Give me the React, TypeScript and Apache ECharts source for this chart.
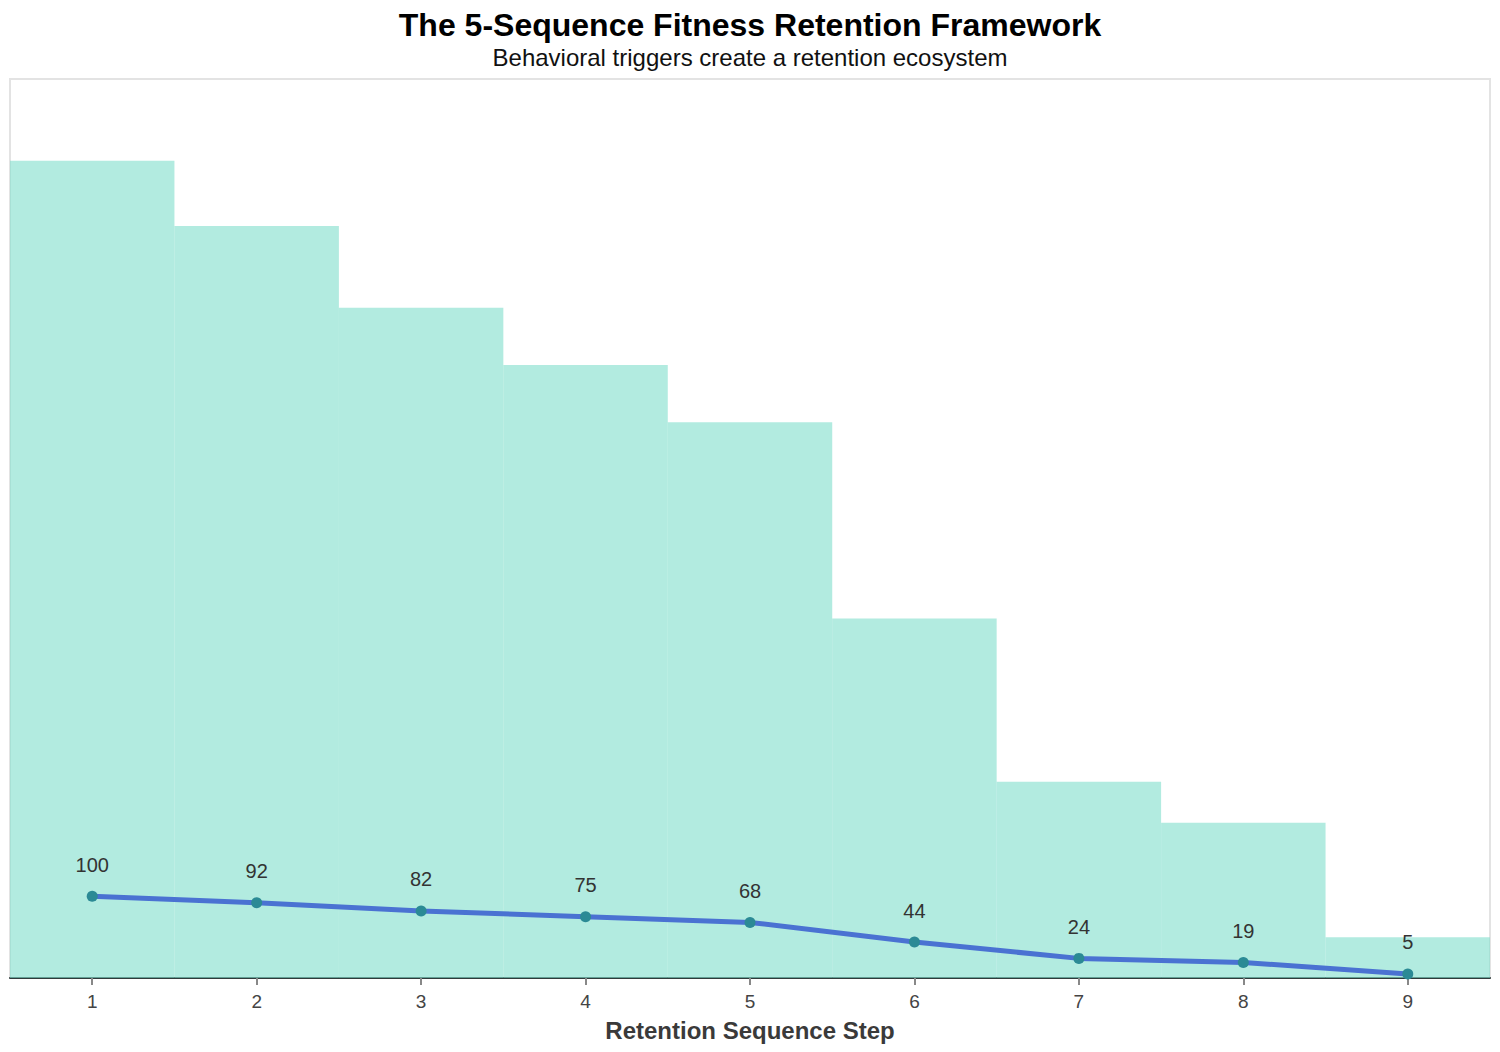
import React, { useEffect, useRef } from "react";
import * as echarts from "echarts";

const steps = ["1", "2", "3", "4", "5", "6", "7", "8", "9"];
const barValues = [100, 92, 82, 75, 68, 44, 24, 19, 5];
const lineValues = [100, 92, 82, 75, 68, 44, 24, 19, 5];

const titleText = "The 5-Sequence Fitness Retention Framework";
const subtitleText = "Behavioral triggers create a retention ecosystem";
const xAxisName = "Retention Sequence Step";

export default function App() {
  const ref = useRef<HTMLDivElement>(null);
  useEffect(() => {
    if (!ref.current) return;
    const chart = echarts.init(ref.current, null, { renderer: "svg" });
    const font = "'Liberation Sans', Arial, sans-serif";
    chart.setOption({
      animation: false,
      backgroundColor: "#ffffff",
      textStyle: { fontFamily: font },
      title: {
        text: titleText,
        subtext: subtitleText,
        left: "center",
        top: 4,
        itemGap: 4,
        textStyle: { fontFamily: font, fontSize: 32, fontWeight: "bold", color: "#000000" },
        subtextStyle: { fontFamily: font, fontSize: 24, color: "#111111" },
      },
      grid: {
        left: 10,
        right: 10,
        top: 79,
        bottom: 74,
        show: true,
        borderColor: "#e3e3e3",
        borderWidth: 2,
        backgroundColor: "transparent",
      },
      xAxis: {
        type: "category",
        data: steps,
        boundaryGap: true,
        name: xAxisName,
        nameLocation: "middle",
        nameGap: 40,
        nameTextStyle: { fontFamily: font, fontSize: 24, fontWeight: "bold", color: "#3a3a3a" },
        axisLine: { show: true, lineStyle: { color: "#2f3a3a", width: 2 } },
        axisTick: { show: true, alignWithLabel: true, length: 7, lineStyle: { color: "#888888", width: 2 } },
        axisLabel: { fontFamily: font, fontSize: 19, color: "#444444", margin: 14 },
        splitLine: { show: false },
      },
      yAxis: [
        { type: "value", min: 0, max: 110, show: false, splitLine: { show: false } },
        { type: "value", min: 0, max: 1100, show: false, splitLine: { show: false } },
      ],
      series: [
        {
          type: "bar",
          data: barValues,
          yAxisIndex: 0,
          barCategoryGap: "0%",
          barGap: "0%",
          itemStyle: { color: "rgba(130, 222, 205, 0.62)" },
          z: 1,
        },
        {
          type: "line",
          data: lineValues,
          yAxisIndex: 1,
          symbol: "circle",
          symbolSize: 11,
          lineStyle: { color: "#4a72d2", width: 5 },
          itemStyle: { color: "#2b8a95", borderWidth: 0 },
          label: {
            show: true,
            position: "top",
            distance: 16,
            fontFamily: font,
            fontSize: 20,
            color: "#333333",
          },
          z: 3,
        },
      ],
    });
    return () => chart.dispose();
  }, []);
  return (
    <div
      ref={ref}
      style={{ position: "fixed", left: 0, top: 0, width: 1500, height: 1052 }}
    />
  );
}
